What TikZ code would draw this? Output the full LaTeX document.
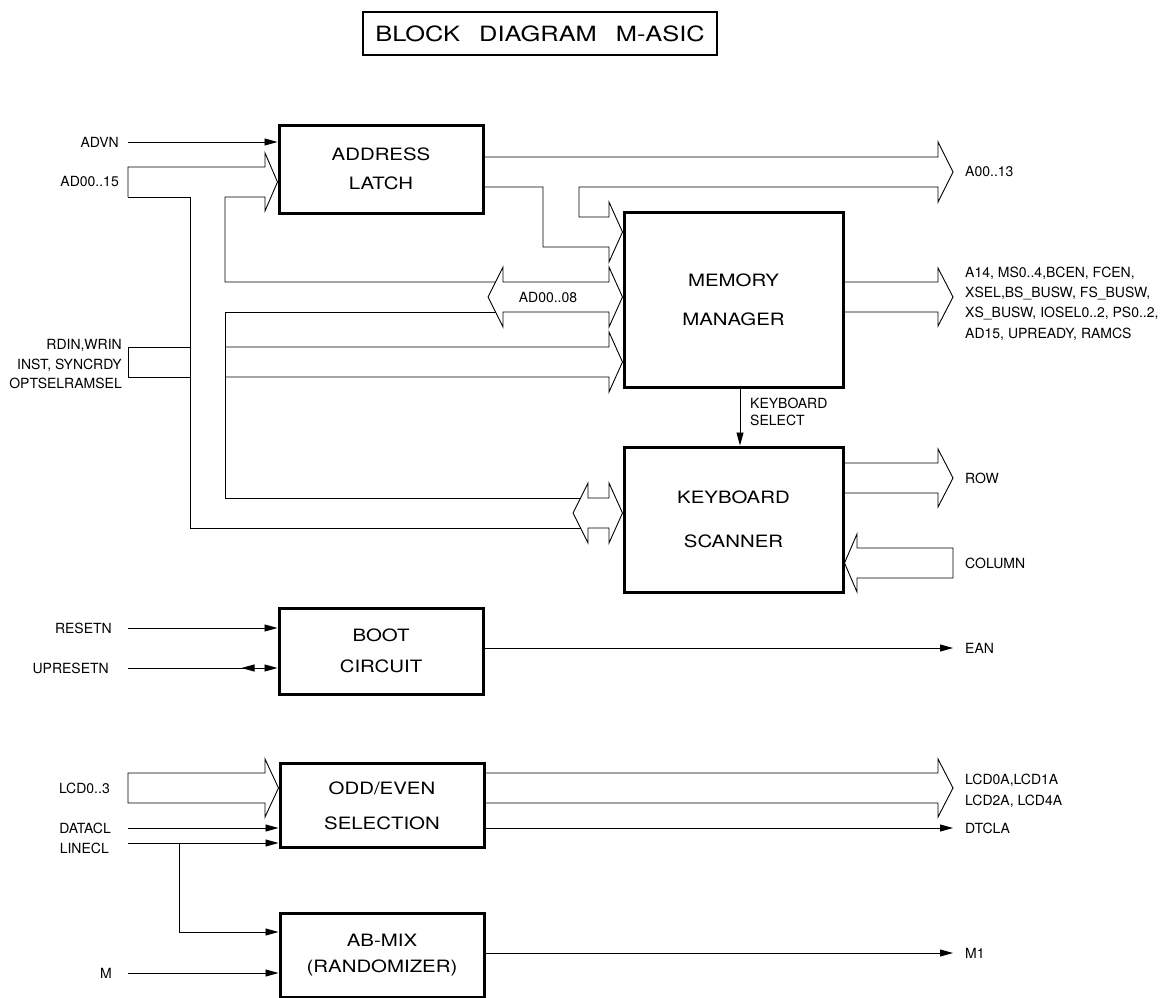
\documentclass[tikz,border=0pt]{standalone}
\usepackage{fontspec}
\setmainfont{TeX Gyre Heros}
\newfontfamily\blockfont[FakeStretch=1.2]{TeX Gyre Heros}
\newfontfamily\titlefont[FakeStretch=1.21]{TeX Gyre Heros}
\usetikzlibrary{arrows.meta,positioning}
\begin{document}
\begin{tikzpicture}[x=1pt, y=-1pt, line join=miter, >={Triangle[length=13pt,width=7pt]},
	block/.style={draw, line width=3pt, minimum width=204pt, align=center, font=\blockfont\fontsize{17}{20}\selectfont},
	sig/.style={line width=0.9pt},
	bus/.style={line width=0.9pt},
	lbl/.style={inner sep=0pt, font=\fontsize{14}{17}\selectfont}]
	\useasboundingbox (0,0) rectangle (1165,998);
	% title
	\node[draw, line width=2.5pt, minimum width=354pt, minimum height=43pt, font=\titlefont\fontsize{21}{24}\selectfont] (title) at (540,33.5) {BLOCK\hspace{19pt}DIAGRAM\hspace{19pt}M-ASIC};
	% blocks
	\node[block, minimum height=88pt] (latch) at (381,169) {ADDRESS\\[9pt]LATCH};
	\node[block, minimum width=219pt, minimum height=175pt] (mem) at (733.5,299.5) {MEMORY\\[19pt]MANAGER};
	\node[block, minimum width=219pt, minimum height=145pt] (kbd) at (733.5,519.5) {KEYBOARD\\[24pt]SCANNER};
	\node[block, minimum height=86pt] (boot) at (381,651) {BOOT\\[11pt]CIRCUIT};
	\node[block, minimum height=84pt] (oddeven) at (382,805.5) {ODD/EVEN\\[15pt]SELECTION};
	\node[block, minimum height=84pt] (abmix) at (382,955) {AB-MIX\\[6pt](RANDOMIZER)};
	% single signal lines
	\coordinate (advn) at (128,142);
	\coordinate (reset) at (128,628);
	\coordinate (upreset) at (128,668);
	\coordinate (datacl) at (128,828);
	\coordinate (linecl) at (128,843);
	\coordinate (lintap) at (179,843);
	\coordinate (m) at (128,973);
	\coordinate (ean) at (953,648);
	\coordinate (dtcla) at (953,828);
	\coordinate (m1) at (953,953);
	\draw[sig,->] (advn) -- (latch.west |- advn);
	\draw[sig,->] (reset) -- (boot.west |- reset);
	\draw[sig,-{Triangle[reversed,length=13pt,width=7pt,sep=10pt]Triangle[length=13pt,width=7pt]}] (upreset) -- (boot.west |- upreset);
	\draw[sig,->] (datacl) -- (oddeven.west |- datacl);
	\draw[sig,->] (linecl) -- (oddeven.west |- linecl);
	\draw[sig,->] (lintap) |- (abmix.west |- 0,932);
	\draw[sig,->] (m) -- (abmix.west |- m);
	\draw[sig,->] (boot.east |- ean) -- (ean);
	\draw[sig,->] (oddeven.east |- dtcla) -- (dtcla);
	\draw[sig,->] (abmix.east |- m1) -- (m1);
	\draw[sig,->] ([xshift=6.5pt]mem.south) -- ([xshift=6.5pt]kbd.north);
	% AD00..15 bus and its branches
	\draw[bus] (128,197) -- (128,167) -- (265,167) -- (265,153) -- (latch.west |- 0,182) -- (265,211) -- (265,197) -- (225,197) -- (225,282) -- (495.5,282);
	\draw[bus] (128,197) -- (190,197) -- (190,528) -- (580.5,528);
	\draw[bus] (495.5,312) -- (225,312) -- (225,498) -- (580.5,498);
	\draw[bus] (488,297) -- (503,267) -- (503,282) -- (609,282) -- (609,267) -- (mem.west |- 0,297) -- (609,327) -- (609,312) -- (503,312) -- (503,327) -- cycle;
	\node[lbl] (ad08) at (548,297) {AD00..08};
	\draw[bus] (573,513) -- (588,483) -- (588,498) -- (609,498) -- (609,483) -- (kbd.west |- 0,513) -- (609,543) -- (609,528) -- (588,528) -- (588,543) -- cycle;
	% RDIN bus
	\draw[bus] (190,347) -- (128,347) -- (128,377) -- (190,377);
	\draw[bus] (225,347) -- (609,347) -- (609,332) -- (mem.west |- 0,362) -- (609,392) -- (609,377) -- (225,377);
	% address bus out of the latch
	\draw[bus] (latch.east |- 0,157) -- (938,157) -- (938,142) -- (953,172) -- (938,202) -- (938,187) -- (579,187) -- (579,217) -- (609,217) -- (609,202) -- (mem.west |- 0,232) -- (609,262) -- (609,247) -- (543,247) -- (543,187) -- (latch.east |- 0,187);
	% outputs of memory manager and keyboard scanner
	\draw[bus] (mem.east |- 0,282) -- (938,282) -- (938,268) -- (953,297) -- (938,326) -- (938,312) -- (mem.east |- 0,312);
	\draw[bus] (kbd.east |- 0,463) -- (938,463) -- (938,449) -- (953,478) -- (938,507) -- (938,493) -- (kbd.east |- 0,493);
	\draw[bus] (953,548) -- (857,548) -- (857,534) -- (kbd.east |- 0,563) -- (857,592) -- (857,578) -- (953,578) -- cycle;
	% LCD buses
	\draw[bus] (128,803) -- (128,773) -- (265,773) -- (265,759) -- (oddeven.west |- 0,788) -- (265,817) -- (265,803) -- cycle;
	\draw[bus] (oddeven.east |- 0,773) -- (938,773) -- (938,759) -- (953,788) -- (938,817) -- (938,803) -- (oddeven.east |- 0,803);
	% input labels
	\coordinate (adin) at (128,182);
	\coordinate (rdin) at (128,362);
	\coordinate (lcdin) at (128,788);
	\node[lbl, left=9pt of advn] {ADVN};
	\node[lbl, left=9pt of adin] {AD00..15};
	\node[lbl, align=right, font=\fontsize{14}{19.5}\selectfont, left=6pt of rdin, yshift=-2.5pt] {RDIN,WRIN\\INST, SYNCRDY\\OPTSELRAMSEL};
	\node[lbl, left=16pt of reset] {RESETN};
	\node[lbl, left=19pt of upreset] {UPRESETN};
	\node[lbl, left=18pt of lcdin] {LCD0..3};
	\node[lbl, left=17pt of datacl] {DATACL};
	\node[lbl, left=19pt of linecl, yshift=-5pt] {LINECL};
	\node[lbl, left=16pt of m] {M};
	% output labels
	\coordinate (a13) at (953,172);
	\coordinate (msout) at (953,297);
	\coordinate (row) at (953,478);
	\coordinate (col) at (953,563);
	\coordinate (lcdout) at (953,788);
	\node[lbl, right=12pt of a13] {A00..13};
	\node[lbl, align=left, font=\fontsize{14}{20.3}\selectfont, right=12pt of msout, yshift=-6.5pt] {A14, MS0..4,BCEN, FCEN,\\XSEL,BS\_BUSW, FS\_BUSW,\\XS\_BUSW, IOSEL0..2, PS0..2,\\AD15, UPREADY, RAMCS};
	\node[lbl, right=12pt of row] {ROW};
	\node[lbl, right=12pt of col] {COLUMN};
	\node[lbl, right=12pt of ean] {EAN};
	\node[lbl, align=left, font=\fontsize{14}{21}\selectfont, right=12pt of lcdout, yshift=-2.5pt] {LCD0A,LCD1A\\LCD2A, LCD4A};
	\node[lbl, right=12pt of dtcla] {DTCLA};
	\node[lbl, right=12pt of m1] {M1};
	\node[lbl, align=left, anchor=west] (kbdsel) at (750,411.5) {KEYBOARD\\SELECT};
\end{tikzpicture}
\end{document}
